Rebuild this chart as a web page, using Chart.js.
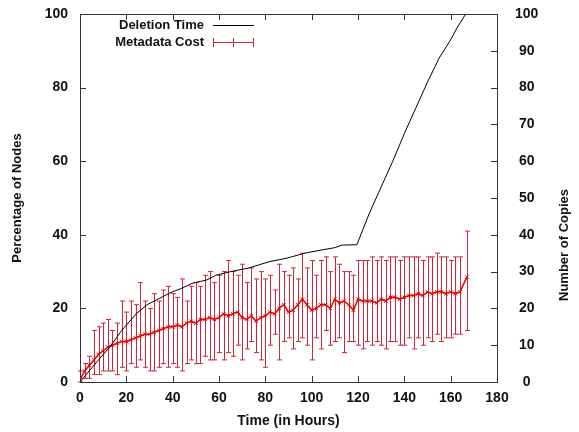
<!DOCTYPE html>
<html>
<head>
<meta charset="utf-8">
<script src="https://cdn.jsdelivr.net/npm/chart.js@4.4.0/dist/chart.umd.min.js"></script>
<style>
html, body { margin: 0; padding: 0; background: #fff; }
</style>
</head>
<body>
<canvas id="myChart" width="579" height="432"></canvas>
<script>
// Deletion Time (percentage of nodes, left axis)
var delHours = [0, 4, 8, 13, 18, 24.5, 29, 33, 38.8, 44, 48.8, 54.6, 58.6, 65, 73, 81.7, 89, 97, 104.5, 110, 113, 119.5,
                125, 130, 135, 140, 145, 150, 155, 160, 163, 166.5];
var delPct = [0, 3, 6, 9.6, 14, 18.7, 21, 22.3, 24.2, 25.5, 26.9, 27.7, 29, 30, 31, 32.7, 33.6, 35, 35.9, 36.5, 37.2, 37.3,
              46, 53, 60, 67.5, 74.5, 81.5, 88, 93, 96.5, 100];

// Metadata Cost (number of copies, right axis): mean with low / high error bars
var hours = [0, 2, 4, 6, 8, 10, 12, 14, 16, 18, 20, 22, 24, 26, 28, 30, 32, 34, 36, 38, 40, 42, 44, 46, 48, 50,
             52, 54, 56, 58, 60, 62, 64, 66, 68, 70, 72, 74, 76, 78, 80, 82, 84, 86, 88, 90, 92, 94, 96, 98, 100,
             102, 104, 106, 108, 110, 112, 114, 116, 118, 120, 122, 124, 126, 128, 130, 132, 134, 136, 138, 140,
             142, 144, 146, 148, 150, 152, 154, 156, 158, 160, 162, 164, 167];
var copiesMean = [0.5, 3, 4.5, 6, 7.5, 8.5, 9.5, 10, 10.5, 11, 11, 11.5, 12, 12.5, 13, 13, 13.5, 14, 14.5, 15, 15, 15.5, 15, 16, 16.5, 16,
                  17, 17, 17.5, 17, 17.5, 18.5, 18, 18.5, 19, 17.5, 17, 18, 16.5, 17.5, 18, 19, 18.5, 20, 21, 19, 19.5, 21, 22.5, 21, 19.5,
                  20, 21, 21, 20, 22.5, 21.5, 22, 21, 19.5, 22.5, 22, 22, 22, 21.5, 22.5, 22, 23, 23, 22.5, 23,
                  23.5, 23.5, 24, 23.5, 24.5, 24, 24.5, 24.5, 24, 24.5, 24, 24.5, 28.5];
var copiesLow = [0, 1, 1, 2, 2, 3, 3, 3, 2, 4, 3, 5, 4, 6, 4, 3, 3, 4, 5, 4, 5, 4, 3, 5, 6, 5,
                 5, 7, 6, 6, 8, 6, 8, 7, 10, 6, 9, 11, 8, 6, 4, 10, 13, 6, 11, 12, 9, 11, 12, 10, 6,
                 12, 9, 14, 10, 11, 12, 8, 11, 11, 10, 9, 11, 10, 11, 10, 9, 11, 11, 10, 10,
                 12, 9, 12, 10, 12, 11, 13, 11, 12, 12, 13, 13, 14];
var copiesHigh = [3, 5, 7, 14, 15, 16, 17, 14, 16, 22, 19, 22, 21, 27, 22, 20, 24, 22, 25, 26, 24, 23, 28, 22, 26, 27,
                  26, 29, 30, 27, 29, 30, 33, 30, 29, 32, 27, 31, 28, 30, 28, 29, 25, 32, 30, 29, 31, 28, 35, 31, 33,
                  29, 33, 34, 30, 34, 32, 30, 30, 29, 33, 33, 33, 34, 33, 34, 33, 34, 34, 33, 34,
                  34, 34, 34, 33, 34, 34, 35, 34, 34, 33, 34, 34, 41];

var leftTicks = [0, 20, 40, 60, 80, 100];
var rightTicks = [0, 10, 20, 30, 40, 50, 60, 70, 80, 90, 100];
var xTicks = [0, 20, 40, 60, 80, 100, 120, 140, 160, 180];

var RED = '#e60000';
var BAR_RED = '#c8283a';
var AXIS = '#333';
var FONT = '"Liberation Sans", Arial, sans-serif';

// error bars, drawn under the mean line
var errorBars = {
    id: 'errorBars',
    beforeDatasetsDraw: function(chart) {
        var ctx = chart.ctx;
        var xs = chart.scales.x, ys = chart.scales.y2;
        ctx.save();
        ctx.strokeStyle = BAR_RED;
        ctx.lineWidth = 1;
        hours.forEach(function(h, i) {
            var px = Math.round(xs.getPixelForValue(h)) + 0.5;
            var lo = ys.getPixelForValue(copiesLow[i]);
            var hi = ys.getPixelForValue(copiesHigh[i]);
            ctx.beginPath();
            ctx.moveTo(px, lo); ctx.lineTo(px, hi);
            ctx.moveTo(px - 2.5, hi); ctx.lineTo(px + 2.5, hi);
            ctx.moveTo(px - 2.5, lo); ctx.lineTo(px + 2.5, lo);
            ctx.stroke();
        });
        ctx.restore();
    }
};

// gnuplot style frame: box, inward ticks, key, right axis title
var frame = {
    id: 'frame',
    afterDraw: function(chart) {
        var ctx = chart.ctx;
        var a = chart.chartArea;
        var xs = chart.scales.x, ys = chart.scales.y, y2 = chart.scales.y2;
        ctx.save();
        ctx.strokeStyle = AXIS;
        ctx.lineWidth = 1;
        ctx.strokeRect(Math.round(a.left) + 0.5, Math.round(a.top) + 0.5,
                       Math.round(a.right - a.left), Math.round(a.bottom - a.top));
        ctx.beginPath();
        xTicks.forEach(function(v) {
            var px = Math.round(xs.getPixelForValue(v)) + 0.5;
            ctx.moveTo(px, a.bottom); ctx.lineTo(px, a.bottom - 6);
            ctx.moveTo(px, a.top); ctx.lineTo(px, a.top + 6);
        });
        leftTicks.forEach(function(v) {
            var py = Math.round(ys.getPixelForValue(v)) + 0.5;
            ctx.moveTo(a.left, py); ctx.lineTo(a.left + 6, py);
        });
        rightTicks.forEach(function(v) {
            var py = Math.round(y2.getPixelForValue(v)) + 0.5;
            ctx.moveTo(a.right, py); ctx.lineTo(a.right - 6, py);
        });
        ctx.stroke();

        // key
        var ds = chart.data.datasets;
        var k1 = a.top + 11, k2 = a.top + 28;
        ctx.font = 'bold 13px ' + FONT;
        ctx.fillStyle = '#111';
        ctx.textAlign = 'right';
        ctx.textBaseline = 'middle';
        ctx.fillText(ds[0].label, 204, k1);
        ctx.fillText(ds[1].label, 204, k2);
        ctx.strokeStyle = '#000';
        ctx.beginPath();
        ctx.moveTo(213, k1 + 0.5); ctx.lineTo(254, k1 + 0.5);
        ctx.stroke();
        ctx.strokeStyle = BAR_RED;
        ctx.beginPath();
        ctx.moveTo(213, k2 + 0.5); ctx.lineTo(254, k2 + 0.5);
        [213.5, 233.5, 253.5].forEach(function(px) {
            ctx.moveTo(px, k2 - 4); ctx.lineTo(px, k2 + 5);
        });
        ctx.stroke();

        // right axis title, reading bottom to top like the left one
        ctx.font = 'bold 13px ' + FONT;
        ctx.textAlign = 'center';
        ctx.translate(564, 245);
        ctx.rotate(-Math.PI / 2);
        ctx.fillText('Number of Copies', 0, 0);
        ctx.restore();
    }
};

var tickFont = { family: FONT, size: 14, weight: 'bold' };

// fixed axis box sizes so the plot area sits where the original has it
function fixWidth(w) {
    return function(s) {
        s.width = w;
        s.paddingTop = 0;
        s.paddingBottom = 0;
    };
}

var ctx = document.getElementById('myChart');
var myChart = new Chart(ctx, {
    type: 'line',
    data: {
        datasets: [{
            label: 'Deletion Time',
            yAxisID: 'y',
            data: delHours.map(function(h, i) { return { x: h, y: delPct[i] }; }),
            borderColor: '#000',
            borderWidth: 1,
            pointRadius: 0,
            tension: 0,
        }, {
            label: 'Metadata Cost',
            yAxisID: 'y2',
            data: hours.map(function(h, i) { return { x: h, y: copiesMean[i] }; }),
            borderColor: RED,
            borderWidth: 1.5,
            pointStyle: 'crossRot',
            pointRadius: 2.5,
            pointBorderColor: RED,
            pointBorderWidth: 1,
            tension: 0,
        }],
    },
    options: {
        responsive: false,
        animation: false,
        layout: { padding: { top: 14, left: 0, right: 0, bottom: 0 } },
        plugins: {
            legend: { display: false },
            tooltip: { enabled: false },
        },
        scales: {
            x: {
                type: 'linear',
                min: 0,
                max: 180,
                afterFit: function(s) { s.height = 50; },
                afterBuildTicks: function(s) { s.ticks = xTicks.map(function(v) { return { value: v }; }); },
                grid: { display: false, drawTicks: false },
                border: { display: false },
                ticks: { font: tickFont, color: '#111', padding: 8, maxRotation: 0 },
                title: {
                    display: true,
                    text: 'Time (in Hours)',
                    color: '#111',
                    font: { family: FONT, size: 14, weight: 'bold' },
                    padding: { top: 0, bottom: 2 },
                },
            },
            y: {
                position: 'left',
                min: 0,
                max: 100,
                afterFit: fixWidth(80),
                afterBuildTicks: function(s) { s.ticks = leftTicks.map(function(v) { return { value: v }; }); },
                grid: { display: false, drawTicks: false },
                border: { display: false },
                ticks: { font: tickFont, color: '#111', padding: 12 },
                title: {
                    display: true,
                    text: 'Percentage of Nodes',
                    color: '#111',
                    font: { family: FONT, size: 13, weight: 'bold' },
                    padding: { top: 10, bottom: 0 },
                },
            },
            y2: {
                position: 'right',
                min: 0,
                max: 100,
                afterFit: fixWidth(82),
                afterBuildTicks: function(s) { s.ticks = rightTicks.map(function(v) { return { value: v }; }); },
                grid: { display: false, drawTicks: false },
                border: { display: false },
                ticks: { font: tickFont, color: '#111', padding: 18, crossAlign: 'center' },
            },
        },
    },
    plugins: [errorBars, frame],
});
</script>
</body>
</html>
